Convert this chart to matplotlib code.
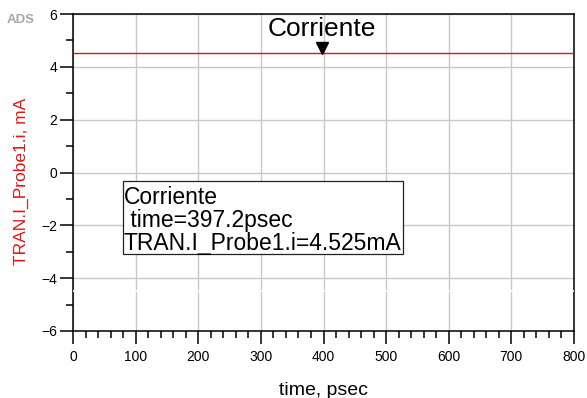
"""Recreate ADS transient current plot (TRAN.I_Probe1.i vs time)."""

import matplotlib
from matplotlib import pyplot as plt
from matplotlib.patches import Rectangle

matplotlib.use("Agg")

plt.rcParams["font.family"] = ["Liberation Sans", "DejaVu Sans"]

# data
time_ps = [0.0, 800.0]
current_ma = [4.525, 4.525]
marker_time = [397.2]
marker_current = [4.525]
marker_name = "Corriente"
readout_lines = ["Corriente", " time=397.2psec", "TRAN.I_Probe1.i=4.525mA"]
x_ticks = [0, 100, 200, 300, 400, 500, 600, 700, 800]
y_ticks = [-6, -4, -2, 0, 2, 4, 6]

W, H, DPI = 587, 398, 100
RED = "#e41414"
fig = plt.figure(figsize=(W / DPI, H / DPI), dpi=DPI)
ax = fig.add_axes([73 / W, 1 - 331 / H, (574 - 73) / W, (331 - 14) / H])

ax.set_xlim(0, 800)
ax.set_ylim(-6, 6)
ax.set_xticks(x_ticks)
ax.set_yticks(y_ticks)
ax.set_xticks(range(0, 801, 20), minor=True)
ax.set_yticks(range(-5, 6, 2), minor=True)
ax.tick_params(which="major", length=9.5, width=1.1, labelsize=10, pad=2, color="black")
ax.tick_params(axis="x", which="major", pad=4)
ax.tick_params(which="minor", length=5, width=1.1, color="black")
ax.grid(True, which="major", color="#c8c8c8", linewidth=1.0)
for s in ax.spines.values():
    s.set_linewidth(1.1)
    s.set_color("black")

ax.plot(time_ps, current_ma, color=RED, linewidth=1.0, zorder=3)

# marker + its name
ax.plot(marker_time, marker_current, marker="v", color="black", markersize=8,
        linestyle="none", zorder=5,
        transform=ax.transData + matplotlib.transforms.ScaledTranslation(0, 5 / DPI, fig.dpi_scale_trans))
ax.annotate(marker_name, xy=(marker_time[0], marker_current[0]), xytext=(0, 8.5),
            textcoords="offset points", ha="center", va="bottom", fontsize=19, zorder=6)

# readout box
ax.add_patch(Rectangle((80, -3.08), 447, 2.76, facecolor="white", edgecolor="#222222",
                       linewidth=0.9, zorder=4))
for i, line in enumerate(readout_lines):
    ax.text(81, -0.95 - i * 0.87, line, fontsize=16.5, ha="left", va="center", zorder=5)

# white rendering seam across the plot
ax.plot([0, 1], [-4.48, -4.48], transform=ax.get_yaxis_transform(), color="white",
        linewidth=1.2, zorder=10, clip_on=False, solid_capstyle="butt")

ax.set_xlabel("time, psec", fontsize=14, labelpad=13)
ax.set_ylabel("TRAN.I_Probe1.i, mA", fontsize=12.5, color=RED)
ax.yaxis.set_label_coords(-0.088, 0.473)

fig.text(7 / W, 1 - 20 / H, "ADS", fontsize=9.5, fontweight="bold", color="#a8a8a8",
         ha="left", va="center")

fig.savefig("out.png", dpi=DPI)
plt.close(fig)
